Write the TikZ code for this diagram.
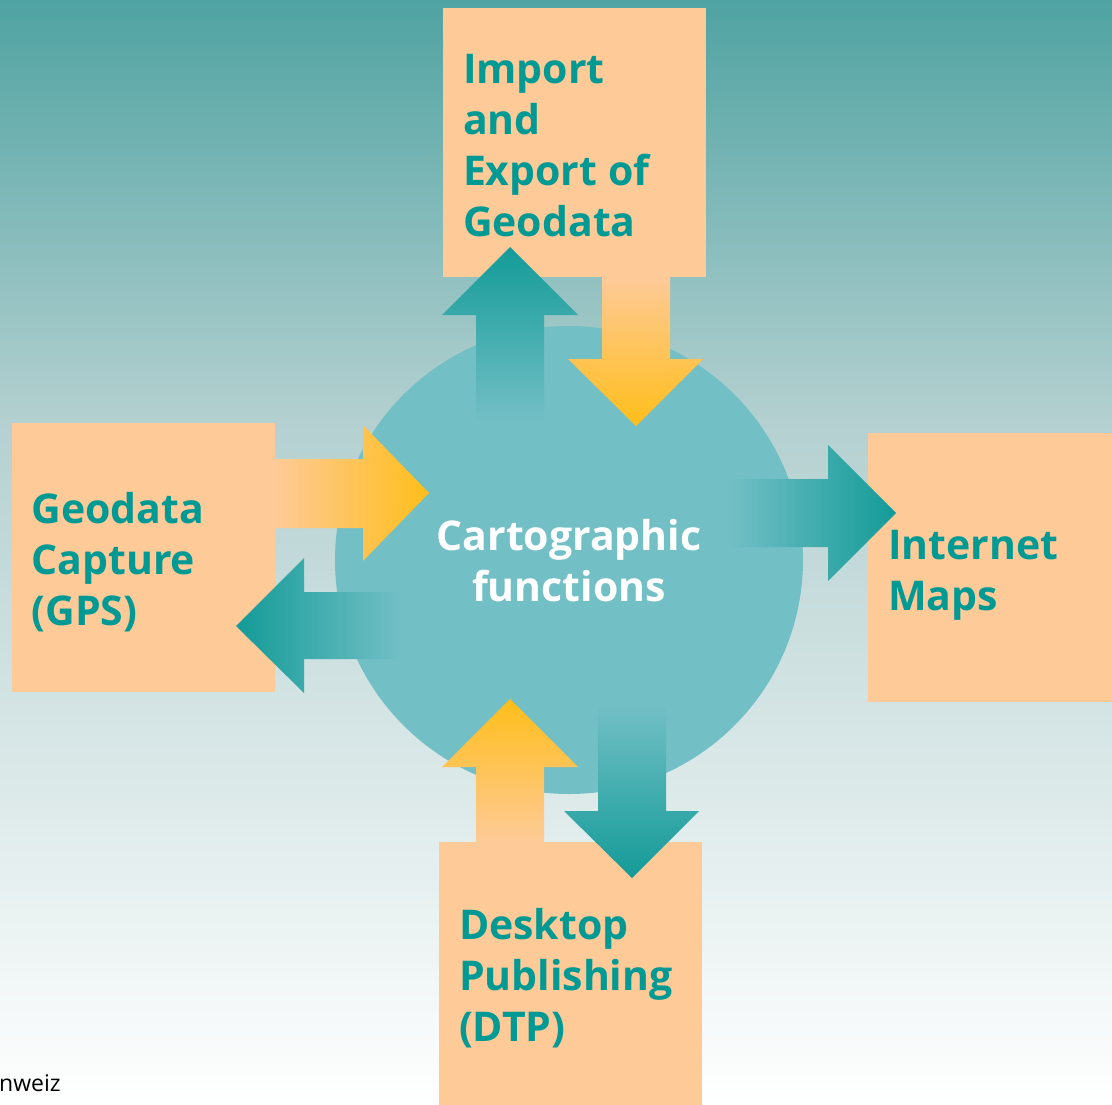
\documentclass[tikz,border=0pt]{standalone}
\usepackage{fontspec}
\setmainfont{Open Sans}
\usetikzlibrary{positioning,calc}
\definecolor{bgtop}{RGB}{79,163,162}
\definecolor{bgmid}{RGB}{180,208,208}
\definecolor{bglow}{RGB}{229,238,238}
\definecolor{peach}{RGB}{254,202,152}
\definecolor{arryellow}{RGB}{255,190,26}
\definecolor{circteal}{RGB}{114,191,197}
\definecolor{arrteal}{RGB}{19,155,152}
\definecolor{txtteal}{RGB}{0,153,148}
\tikzset{
box/.style = {fill=peach, rectangle, inner sep=0pt, minimum width=263pt, minimum height=269pt},
boxtext/.style = {inner sep=0pt, align=left, text=txtteal, font=\fontsize{41}{51}\selectfont\bfseries},
hub/.style = {fill=circteal, circle, minimum size=468pt, inner sep=0pt},
hubtext/.style = {text=white, align=center, font=\fontsize{41}{51}\selectfont\bfseries},
teal up/.style = {top color=arrteal, bottom color=circteal},
teal down/.style = {top color=circteal, bottom color=arrteal},
teal left/.style = {left color=arrteal, right color=circteal},
teal right/.style = {left color=circteal, right color=arrteal},
gold up/.style = {top color=arryellow, bottom color=peach},
gold down/.style = {top color=peach, bottom color=arryellow},
gold right/.style = {left color=peach, right color=arryellow}
}
\begin{document}
\begin{tikzpicture}[x=1pt, y=-1pt, node distance=20pt]
    % background
    \useasboundingbox (0,0) rectangle (1112,1105);
    \shade[top color=bgtop, bottom color=bgmid] (0,0) rectangle (1112,421);
    \shade[top color=bgmid, middle color=bglow, bottom color=white] (0,420) rectangle (1112,1105);

    \node [hub] (hub) at (569,560) {};

    \node [box] (import) at (574.5,142.5) {};
    \node [box] (capture) at (143,557.5) {};
    \node [box] (internet) at (999.5,567.5) {};
    \node [box] (dtp) at (570.5,976.5) {};

    \node [boxtext, right=of import.west, yshift=-3pt] (importtext) {Import\\and\\Export of\\Geodata};
    \node [boxtext, right=of capture.west, yshift=-5pt] (capturetext) {Geodata\\Capture\\(GPS)};
    \node [boxtext, right=of internet.west, yshift=-8pt] (internettext) {Internet\\Maps};
    \node [boxtext, right=of dtp.west, yshift=-2pt] (dtptext) {Desktop\\Publishing\\(DTP)};

    \node [hubtext] (functions) at (569,561) {Cartographic\\functions};

    % arrows top
    \shade[teal up] (476,420) -- (476,315) -- (442,315) -- (510,247) -- (578,315) -- (544,315) -- (544,420) -- cycle;
    \shade[gold down] (602,277) -- (602,359) -- (568,359) -- (636,426) -- (703,359) -- (670,359) -- (670,277) -- cycle;
    % arrows left
    \shade[gold right] (273,459) -- (363,459) -- (363,425) -- (429,493) -- (363,561) -- (363,528) -- (273,528) -- cycle;
    \shade[teal left] (400,592) -- (304,592) -- (304,558) -- (236,626) -- (304,693) -- (304,659) -- (400,659) -- cycle;
    % arrow right
    \shade[teal right] (730,479) -- (828,479) -- (828,445) -- (896,513) -- (828,581) -- (828,547) -- (730,547) -- cycle;
    % arrows bottom
    \shade[gold up] (476,842) -- (476,767) -- (442,767) -- (510,699) -- (578,767) -- (544,767) -- (544,842) -- cycle;
    \shade[teal down] (598,705) -- (598,811) -- (564,811) -- (632,878) -- (699,811) -- (666,811) -- (666,705) -- cycle;

    \node [anchor=base west, inner sep=0pt, font=\fontsize{23}{28}\selectfont] (credit) at (-1,1091) {nweiz};
\end{tikzpicture}
\end{document}
